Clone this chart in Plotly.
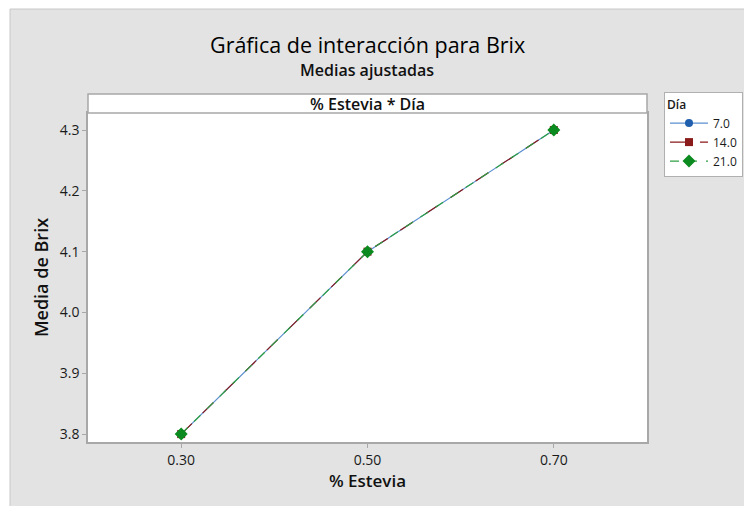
import plotly.graph_objects as go

# medias ajustadas de Brix por % Estevia y Día
estevia = [0.30, 0.50, 0.70]
dias = ["7.0", "14.0", "21.0"]
brix_7 = [3.80, 4.10, 4.30]
brix_14 = [3.80, 4.10, 4.30]
brix_21 = [3.80, 4.10, 4.30]
tick_x = ["0.30", "0.50", "0.70"]

series = [brix_7, brix_14, brix_21]
colores = ["#1f5fae", "#8b1a1a", "#0b8a1f"]
lineas = ["#5b8fd0", "#8b1a1a", "#2ea043"]
simbolos = ["circle", "square", "diamond"]
dash = ["solid", "longdash", "dash"]

fig = go.Figure()
for d, y, c, lc, s, ds in zip(dias, series, colores, lineas, simbolos, dash):
    fig.add_trace(go.Scatter(x=estevia, y=y, name=d, mode="lines+markers",
                             line=dict(color=lc, width=1.2, dash=ds),
                             marker=dict(symbol=s, size=8 if s != "diamond" else 10, color=c)))

# window pixel -> paper (plot area 88..647 x 113..442 in the window)
def px(p):
    return (p - 88) / 559

def py(p):
    return (442 - p) / 329

font = "Open Sans"
semi = dict(family=font, weight=600, color="#111")
fig.update_layout(
    # page body has an 8px margin, so the figure is 8px smaller
    width=744, height=498,
    margin=dict(l=80, r=105, t=105, b=64, autoexpand=False),
    paper_bgcolor="#e3e3e3", plot_bgcolor="white",
    font=dict(family=font, color="#1a1a1a"),
    showlegend=True,
    legend=dict(x=px(664), y=py(92), xanchor="left", yanchor="top",
                bgcolor="white", bordercolor="#b0b0b0", borderwidth=1,
                title=dict(text="Día", font=dict(size=12, family=font, weight=600)),
                font=dict(size=12), itemwidth=38, tracegroupgap=0),
    xaxis=dict(range=[0.2, 0.8], tickvals=estevia, ticktext=tick_x,
               showgrid=False, zeroline=False, showline=True, mirror=True,
               linecolor="#a8a8a8", linewidth=1.5, ticks="outside", ticklen=4,
               tickcolor="#a8a8a8", tickfont=dict(size=14),
               title=dict(text="% Estevia", font=dict(size=17, **semi), standoff=6)),
    yaxis=dict(range=[3.787, 4.328], tickvals=[3.8, 3.9, 4.0, 4.1, 4.2, 4.3],
               ticktext=["3.8", "3.9", "4.0", "4.1", "4.2", "4.3"],
               showgrid=False, zeroline=False, showline=True, mirror=True,
               linecolor="#a8a8a8", linewidth=1.5, ticks="outside", ticklen=4,
               tickcolor="#a8a8a8", tickfont=dict(size=14),
               title=dict(text="Media de Brix", font=dict(size=18, **semi), standoff=6)),
    shapes=[
        dict(type="rect", xref="paper", yref="paper", x0=0, x1=1, y0=1, y1=py(94),
             fillcolor="white", line=dict(color="#a8a8a8", width=1.5)),
        dict(type="rect", xref="paper", yref="paper", x0=px(-5), x1=px(10), y0=py(520), y1=py(-5),
             fillcolor="white", line=dict(width=0)),
        dict(type="rect", xref="paper", yref="paper", x0=px(-5), x1=px(760), y0=py(9), y1=py(-5),
             fillcolor="white", line=dict(width=0)),
        dict(type="line", xref="paper", yref="paper", x0=px(10), x1=px(10), y0=py(520), y1=py(9),
             line=dict(color="#c8c8c8", width=1)),
        dict(type="line", xref="paper", yref="paper", x0=px(10), x1=px(760), y0=py(9), y1=py(9),
             line=dict(color="#c8c8c8", width=1)),
    ],
    annotations=[
        dict(text="Gráfica de interacción para Brix", x=px(367), y=py(44), xref="paper", yref="paper",
             yanchor="middle", showarrow=False, font=dict(size=21.5, family=font, color="#000")),
        dict(text="Medias ajustadas", x=px(367), y=py(70), xref="paper", yref="paper",
             yanchor="middle", showarrow=False, font=dict(size=16, **semi)),
        dict(text="% Estevia * Día", x=0.5, y=py(104), xref="paper", yref="paper",
             yanchor="middle", showarrow=False, font=dict(size=16, **semi)),
    ],
)

fig.write_html("out.html")
